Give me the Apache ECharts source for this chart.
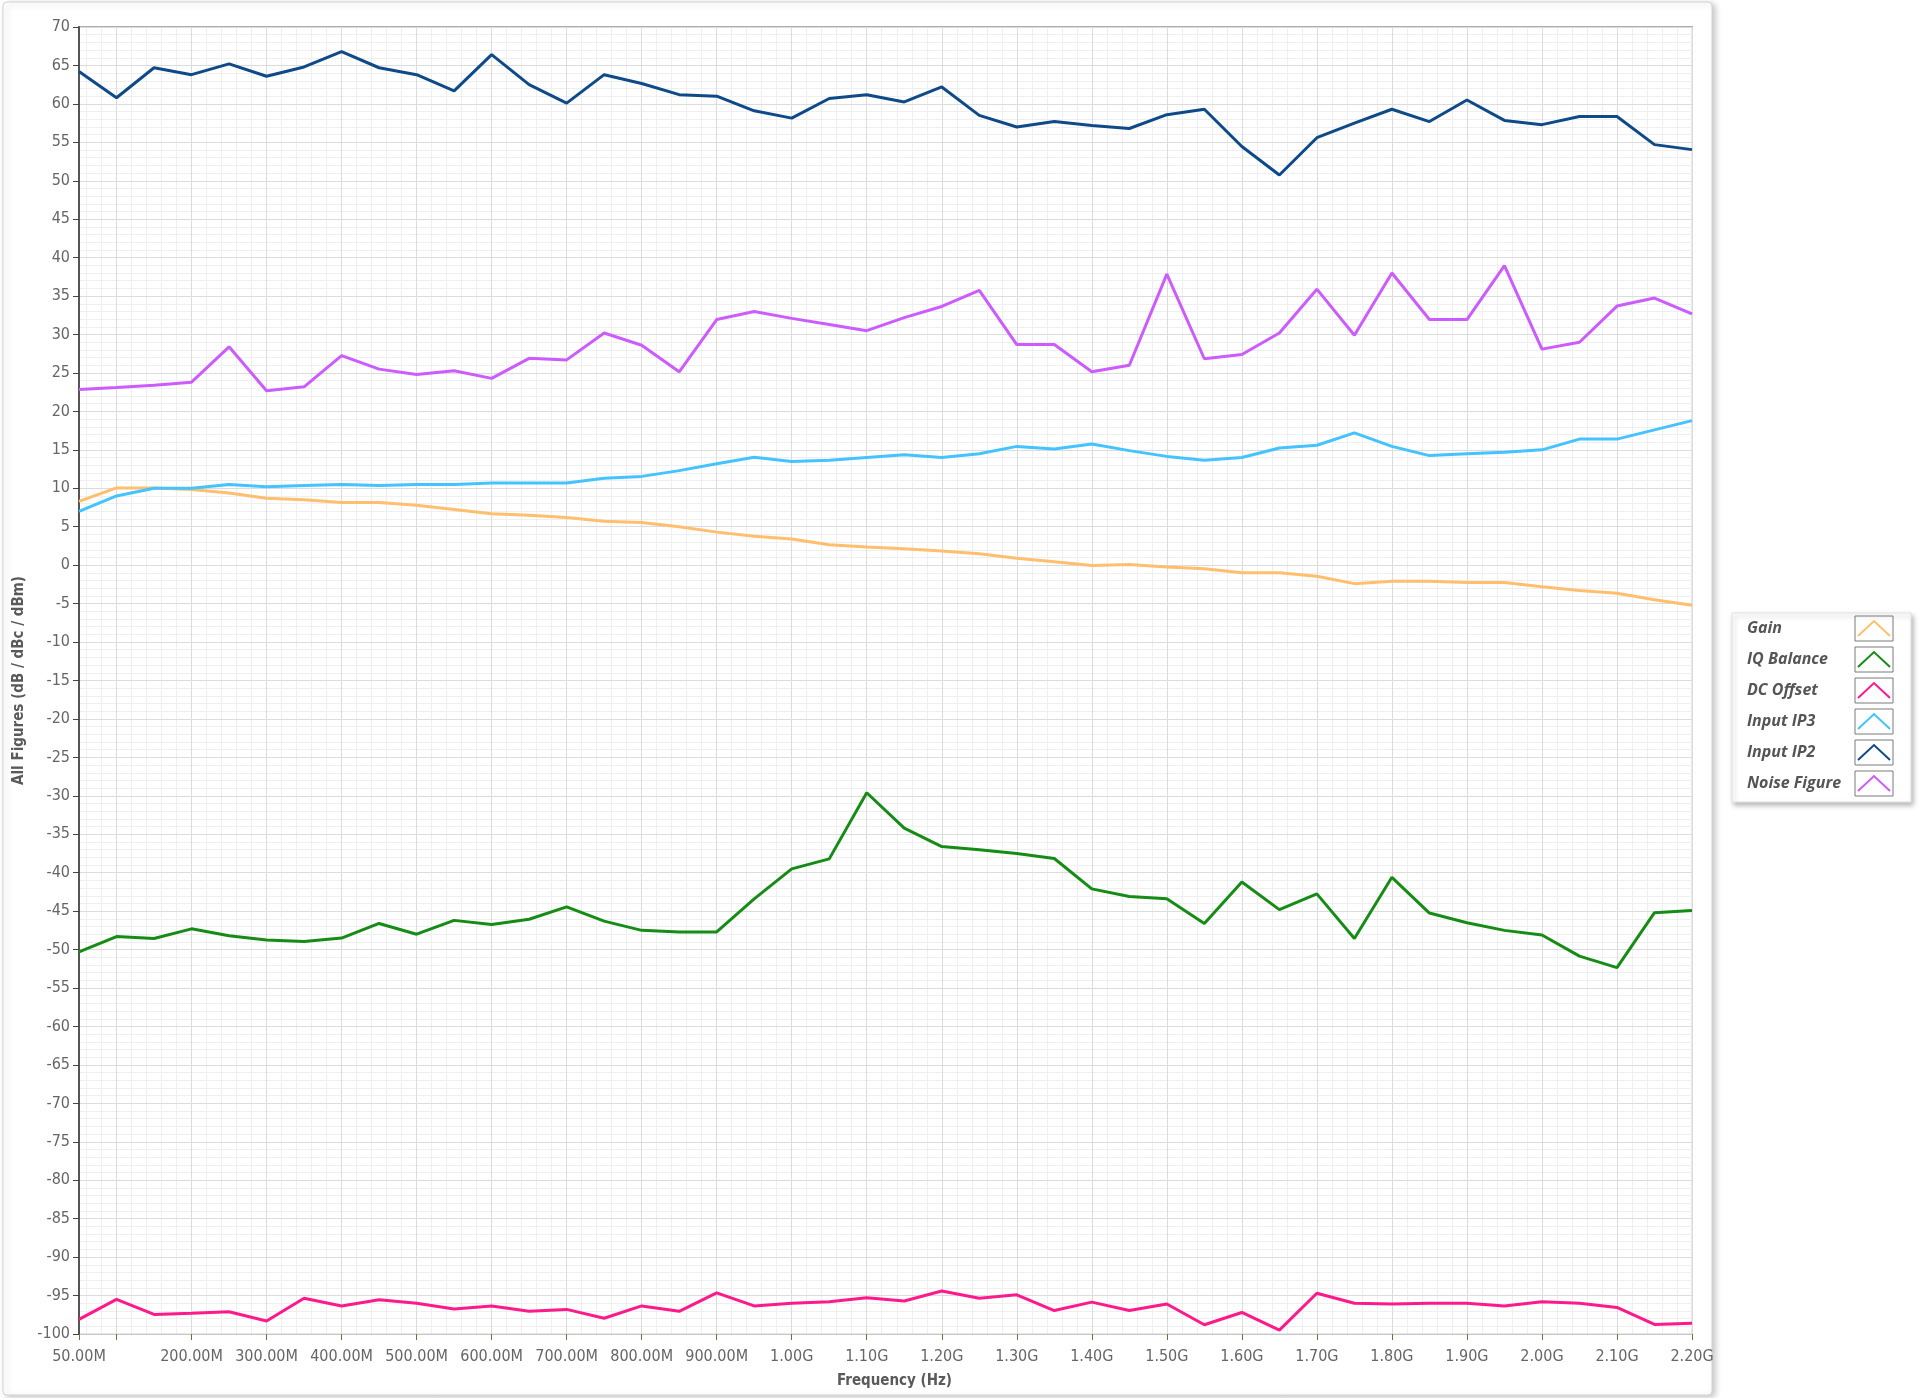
<!DOCTYPE html>
<html>
<head>
<meta charset="utf-8">
<title>All Figures</title>
<script src="https://cdn.jsdelivr.net/npm/echarts@6/dist/echarts.min.js"></script>
<style>
html, body { margin: 0; padding: 0; background: #fff; }
#chart { width: 1923px; height: 1398px; }
</style>
</head>
<body>
<div id="chart"></div>
<script>
// frequency points, MHz
const freqMHz = [50, 100, 150, 200, 250, 300, 350, 400, 450, 500, 550, 600, 650, 700, 750, 800, 850, 900, 950, 1000, 1050,
  1100, 1150, 1200, 1250, 1300, 1350, 1400, 1450, 1500, 1550, 1600, 1650, 1700, 1750, 1800, 1850, 1900, 1950, 2000, 2050, 2100, 2150, 2200];

const gain = [8.3, 10.05, 10.05, 9.85, 9.4, 8.7, 8.5, 8.15, 8.15, 7.8, 7.25, 6.7, 6.5, 6.2, 5.7, 5.55, 5.0, 4.3, 3.75, 3.4, 2.65,
  2.35, 2.15, 1.85, 1.5, 0.9, 0.45, -0.05, 0.1, -0.25, -0.45, -1.0, -1.0, -1.45, -2.4, -2.1, -2.1, -2.25, -2.25, -2.8, -3.3, -3.65, -4.5, -5.2];
const iqBalance = [-50.3, -48.3, -48.55, -47.3, -48.2, -48.75, -48.95, -48.5, -46.6, -48.0, -46.2, -46.75, -46.05, -44.45, -46.3, -47.5, -47.7, -47.7, -43.4, -39.5, -38.2,
  -29.6, -34.2, -36.6, -37.0, -37.5, -38.15, -42.1, -43.1, -43.4, -46.6, -41.2, -44.8, -42.75, -48.55, -40.6, -45.25, -46.5, -47.5, -48.1, -50.85, -52.35, -45.2, -44.9];
const dcOffset = [-98.1, -95.5, -97.45, -97.3, -97.1, -98.3, -95.35, -96.35, -95.55, -96.0, -96.75, -96.35, -97.05, -96.8, -97.95, -96.35, -97.05, -94.65, -96.35, -96.0, -95.8,
  -95.3, -95.7, -94.4, -95.35, -94.9, -96.95, -95.85, -96.95, -96.1, -98.8, -97.2, -99.5, -94.7, -96.0, -96.1, -96.0, -96.0, -96.35, -95.8, -96.0, -96.55, -98.75, -98.6];
const inputIP3 = [7.0, 9.0, 10.0, 10.0, 10.5, 10.2, 10.35, 10.5, 10.35, 10.5, 10.5, 10.7, 10.7, 10.7, 11.3, 11.55, 12.3, 13.2, 14.05, 13.5, 13.65,
  14.0, 14.35, 14.0, 14.5, 15.45, 15.1, 15.75, 14.9, 14.15, 13.65, 14.0, 15.25, 15.6, 17.2, 15.45, 14.25, 14.5, 14.7, 15.0, 16.4, 16.4, 17.6, 18.8];
const inputIP2 = [64.2, 60.8, 64.7, 63.8, 65.2, 63.6, 64.8, 66.8, 64.7, 63.8, 61.7, 66.4, 62.5, 60.1, 63.8, 62.65, 61.2, 61.0, 59.1, 58.15, 60.7,
  61.2, 60.25, 62.2, 58.5, 57.0, 57.7, 57.2, 56.8, 58.6, 59.3, 54.45, 50.75, 55.6, 57.5, 59.3, 57.7, 60.5, 57.85, 57.3, 58.35, 58.35, 54.7, 54.05];
const noiseFigure = [22.85, 23.1, 23.4, 23.8, 28.4, 22.7, 23.2, 27.25, 25.5, 24.8, 25.3, 24.3, 26.9, 26.7, 30.2, 28.6, 25.15, 31.95, 33.0, 32.1, 31.3,
  30.5, 32.2, 33.65, 35.75, 28.7, 28.7, 25.15, 26.0, 37.85, 26.85, 27.4, 30.2, 35.9, 29.9, 38.0, 31.95, 31.95, 38.95, 28.1, 29.0, 33.7, 34.75, 32.7];

const seriesNames = ['Gain', 'IQ Balance', 'DC Offset', 'Input IP3', 'Input IP2', 'Noise Figure'];
const seriesValues = [gain, iqBalance, dcOffset, inputIP3, inputIP2, noiseFigure];
const seriesColors = ['#ffbf6e', '#168c16', '#ff1a8c', '#44c3ff', '#0f4a88', '#cc5cff'];

// axis ticks (MHz); 100M has a tick but no label
const xTickValues = [50, 100, 200, 300, 400, 500, 600, 700, 800, 900, 1000, 1100, 1200, 1300, 1400, 1500, 1600, 1700, 1800, 1900, 2000, 2100, 2200];
const xLabelValues = [50, 200, 300, 400, 500, 600, 700, 800, 900, 1000, 1100, 1200, 1300, 1400, 1500, 1600, 1700, 1800, 1900, 2000, 2100, 2200];

const FONT = "'Liberation Sans Narrow', 'DejaVu Sans Condensed', 'Open Sans', sans-serif";
const LEGEND_FONT = "'Open Sans', 'Noto Sans', sans-serif";

// minor vertical grid every 20M
const xMinor = [];
for (let f = 60; f <= 2200; f += 20) {
  if (f % 100 !== 0) xMinor.push(f);
}

function fmtFreq(v) {
  return v < 1000 ? v.toFixed(2) + 'M' : (v / 1000).toFixed(2) + 'G';
}

const legendLeft = 1732, legendTop = 613, itemW = 38, itemH = 25, itemGap = 4;

const chart = echarts.init(document.getElementById('chart'));
chart.setOption({
  animation: false,
  backgroundColor: '#fff',
  grid: {
    left: 79, right: 231, top: 27, bottom: 64,
    show: true, borderColor: '#cfcfcf', borderWidth: 1
  },
  legend: {
    orient: 'vertical',
    left: legendLeft, top: legendTop,
    align: 'right',
    padding: [2, 17, 5, 15],
    itemWidth: itemW, itemHeight: itemH, itemGap: itemGap,
    selectedMode: false,
    backgroundColor: '#fff',
    borderColor: '#e2e2e2', borderWidth: 1,
    shadowBlur: 5, shadowColor: 'rgba(0,0,0,0.28)', shadowOffsetX: 2, shadowOffsetY: 3,
    icon: 'path://M0,0 M38,25 M3,20 L19,5 L35,20',
    itemStyle: { color: 'transparent', borderWidth: 2 },
    data: seriesNames.map((n, i) => ({ name: n, itemStyle: { color: 'transparent', borderColor: seriesColors[i], borderWidth: 2 } })),
    formatter: name => '{t|' + name + '}',
    textStyle: {
      rich: {
        t: { width: itemW + 65, align: 'left', fontFamily: LEGEND_FONT, fontSize: 16, fontWeight: 'bold', fontStyle: 'italic', color: '#555' }
      }
    }
  },
  xAxis: [{
    type: 'value', min: 50, max: 2200,
    name: 'Frequency (Hz)', nameLocation: 'middle', nameGap: 40,
    nameTextStyle: { fontFamily: FONT, fontSize: 15, fontWeight: 'bold', color: '#5a5a5a', padding: [0, 0, 0, 18] },
    axisLine: { show: true, onZero: false, lineStyle: { color: '#c8c8c8', width: 1 } },
    axisTick: { show: true, length: 6, customValues: xTickValues, lineStyle: { color: '#5e7d3c', width: 1 } },
    axisLabel: { customValues: xLabelValues, formatter: fmtFreq, margin: 15, fontFamily: FONT, fontSize: 16, color: '#666' },
    splitLine: { show: true, lineStyle: { color: '#dcdcdc', width: 1 } }
  }, {
    type: 'value', min: 50, max: 2200, position: 'top', z: -1,
    axisLine: { show: true, onZero: false, lineStyle: { color: '#8c8c8c', width: 2 } },
    axisTick: { show: false, customValues: xMinor },
    axisLabel: { show: false },
    splitLine: { show: true, lineStyle: { color: '#efefef', width: 1 } }
  }],
  yAxis: {
    type: 'value', min: -100, max: 70, interval: 5,
    name: 'All Figures (dB / dBc / dBm)', nameLocation: 'middle', nameGap: 43,
    nameTextStyle: { fontFamily: FONT, fontSize: 15, fontWeight: 'bold', color: '#5a5a5a' },
    axisLine: { show: true, onZero: false, lineStyle: { color: '#555', width: 2 } },
    axisTick: { show: true, length: 6, lineStyle: { color: '#444' } },
    axisLabel: { margin: 9, fontFamily: FONT, fontSize: 16, color: '#666' },
    splitLine: { show: true, lineStyle: { color: '#dcdcdc', width: 1 } },
    minorTick: { show: false, splitNumber: 5 },
    minorSplitLine: { show: true, lineStyle: { color: '#efefef', width: 1 } }
  },
  graphic: [
    {
      type: 'rect', z: -100, silent: true,
      shape: { x: 3, y: 2, width: 1709, height: 1393, r: 4 },
      style: { fill: '#fff', stroke: '#d4d4d4', lineWidth: 1, shadowBlur: 6, shadowColor: 'rgba(0,0,0,0.22)', shadowOffsetX: 3, shadowOffsetY: 2 }
    }
  ].concat(seriesNames.map((n, i) => ({
    type: 'rect', z: 10, silent: true,
    shape: { x: 1855, y: legendTop + 3 + i * (itemH + 2 + itemGap), width: itemW, height: itemH },
    style: { fill: 'none', stroke: '#7a7a7a', lineWidth: 1 }
  }))),
  series: seriesNames.map((n, i) => ({
    name: n,
    type: 'line',
    symbol: 'none',
    color: seriesColors[i],
    lineStyle: { width: 3, color: seriesColors[i] },
    data: freqMHz.map((f, k) => [f, seriesValues[i][k]])
  }))
});
</script>
</body>
</html>
